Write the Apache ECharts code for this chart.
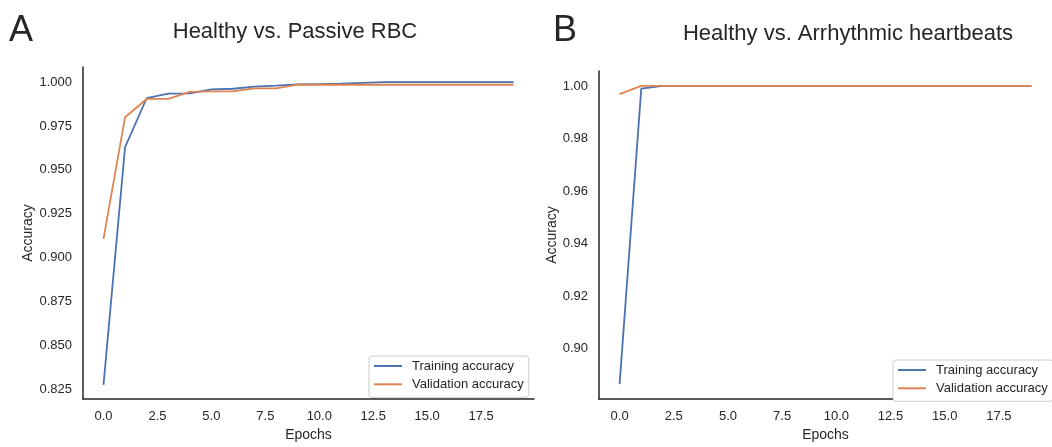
<!DOCTYPE html>
<html>
<head>
<meta charset="utf-8">
<title>Training curves</title>
<script src="https://cdn.jsdelivr.net/npm/echarts@6/dist/echarts.min.js"></script>
<style>
  html, body { margin: 0; padding: 0; background: #ffffff; }
  #chart { width: 1052px; height: 447px; }
</style>
</head>
<body>
<div id="chart"></div>
<script>
// Epoch index shared by both panels
const epochs = [0, 1, 2, 3, 4, 5, 6, 7, 8, 9, 10, 11, 12, 13, 14, 15, 16, 17, 18, 19];

// Panel A: Healthy vs. Passive RBC
const passiveTrain = [0.8275, 0.963, 0.9908, 0.9934, 0.9936, 0.9959, 0.9962, 0.9974, 0.998, 0.9987,
                      0.9989, 0.9991, 0.9996, 1.0, 1.0, 1.0, 1.0, 1.0, 1.0, 1.0];
const passiveVal = [0.9107, 0.980, 0.9904, 0.9904, 0.9944, 0.9947, 0.9947, 0.9964, 0.9964, 0.9985,
                    0.9985, 0.9985, 0.9985, 0.9985, 0.9985, 0.9985, 0.9985, 0.9985, 0.9985, 0.9985];

// Panel B: Healthy vs. Arrhythmic heartbeats
const arrhythTrain = [0.8864, 0.999, 1.0, 1.0, 1.0, 1.0, 1.0, 1.0, 1.0, 1.0,
                      1.0, 1.0, 1.0, 1.0, 1.0, 1.0, 1.0, 1.0, 1.0, 1.0];
const arrhythVal = [0.9969, 1.0, 1.0, 1.0, 1.0, 1.0, 1.0, 1.0, 1.0, 1.0,
                    1.0, 1.0, 1.0, 1.0, 1.0, 1.0, 1.0, 1.0, 1.0, 1.0];

// Tick labels
const xTicks = [0, 2.5, 5, 7.5, 10, 12.5, 15, 17.5];
const yTicksA = [0.825, 0.85, 0.875, 0.9, 0.925, 0.95, 0.975, 1.0];
const yTicksB = [0.90, 0.92, 0.94, 0.96, 0.98, 1.00];

const seriesNames = ['Training accuracy', 'Validation accuracy'];
const panelTitles = ['Healthy vs. Passive RBC', 'Healthy vs. Arrhythmic heartbeats'];
const panelLetters = ['A', 'B'];

const BLUE = '#4c72b0';
const ORANGE = '#dd8452';
const INK = '#262626';
const FONT = "'Liberation Sans', Arial, sans-serif";

const chart = echarts.init(document.getElementById('chart'), null, { renderer: 'canvas' });

function pairs(values) {
  return epochs.map((e, i) => [e, values[i]]);
}

function xAxisFor(gridIndex, gap) {
  return {
    type: 'value', gridIndex: gridIndex,
    min: -0.95, max: 19.95,
    name: 'Epochs', nameLocation: 'middle', nameGap: gap,
    nameTextStyle: { color: INK, fontSize: 14, fontFamily: FONT },
    axisLine: { show: true, onZero: false, lineStyle: { color: INK, width: 1.5 } },
    axisTick: { show: false },
    splitLine: { show: false },
    axisLabel: {
      customValues: xTicks, margin: 11,
      color: INK, fontSize: 13, fontFamily: FONT,
      formatter: v => Number(v).toFixed(1)
    }
  };
}

function yAxisFor(gridIndex, min, max, ticks, digits, gap) {
  return {
    type: 'value', gridIndex: gridIndex,
    min: min, max: max,
    name: 'Accuracy', nameLocation: 'middle', nameGap: gap, nameRotate: 90,
    nameTextStyle: { color: INK, fontSize: 14, fontFamily: FONT },
    axisLine: { show: true, onZero: false, lineStyle: { color: INK, width: 1.5 } },
    axisTick: { show: false },
    splitLine: { show: false },
    axisLabel: {
      customValues: ticks, margin: 11,
      color: INK, fontSize: 13, fontFamily: FONT,
      formatter: v => Number(v).toFixed(digits)
    }
  };
}

function lineSeries(name, color, axisIndex, values) {
  return {
    type: 'line', name: name,
    xAxisIndex: axisIndex, yAxisIndex: axisIndex,
    data: pairs(values),
    symbol: 'none', showSymbol: false,
    lineStyle: { color: color, width: 1.8 },
    itemStyle: { color: color },
    emphasis: { disabled: true }
  };
}

function legendAt(left, top) {
  return {
    left: left, top: top, orient: 'vertical',
    data: seriesNames.map(n => ({ name: n, icon: 'rect' })),
    itemWidth: 28, itemHeight: 2, itemGap: 2.3,
    padding: [2, 5, 5, 5],
    backgroundColor: '#ffffff',
    borderColor: '#cccccc', borderWidth: 1, borderRadius: 3,
    selectedMode: false,
    textStyle: { color: INK, fontSize: 13, fontFamily: FONT, lineHeight: 16, padding: [0, 0, 0, 5] }
  };
}

chart.setOption({
  animation: false,
  backgroundColor: '#ffffff',
  title: [
    { text: panelLetters[0], left: 4, top: 8, textStyle: { color: INK, fontSize: 36, fontWeight: 'normal', fontFamily: FONT } },
    { text: panelLetters[1], left: 548, top: 8, textStyle: { color: INK, fontSize: 36, fontWeight: 'normal', fontFamily: FONT } },
    { text: panelTitles[0], left: 290, top: 16, textAlign: 'center', textStyle: { color: INK, fontSize: 22, fontWeight: 'normal', fontFamily: FONT } },
    { text: panelTitles[1], left: 843, top: 18, textAlign: 'center', textStyle: { color: INK, fontSize: 22, fontWeight: 'normal', fontFamily: FONT } }
  ],
  grid: [
    { left: 83, top: 67, width: 451, height: 336 },
    { left: 599, top: 71, width: 456, height: 336 }
  ],
  xAxis: [xAxisFor(0, 26), xAxisFor(1, 26)],
  yAxis: [
    yAxisFor(0, 0.8194, 1.0086, yTicksA, 3, 48),
    yAxisFor(1, 0.8807, 1.0057, yTicksB, 2, 39)
  ],
  legend: [legendAt(369, 356), legendAt(893, 360)],
  series: [
    lineSeries(seriesNames[0], BLUE, 0, passiveTrain),
    lineSeries(seriesNames[1], ORANGE, 0, passiveVal),
    lineSeries(seriesNames[0], BLUE, 1, arrhythTrain),
    lineSeries(seriesNames[1], ORANGE, 1, arrhythVal)
  ]
});
</script>
</body>
</html>
